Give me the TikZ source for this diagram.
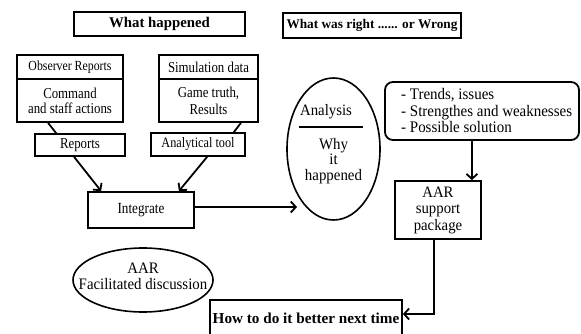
\documentclass[tikz,border=0pt]{standalone}
\usepackage{fontspec}
\setmainfont{Liberation Serif}[FakeStretch=0.85]
\newfontfamily\rfont{Liberation Serif}[FakeStretch=0.93]
\newfontfamily\hfont{Liberation Serif}
\usetikzlibrary{arrows.meta,shapes.geometric}
\newcommand\fsz[2]{\fontsize{#1}{#2}\selectfont}
\begin{document}
\begin{tikzpicture}[x=1pt,y=-1pt,
  box/.style={draw,line width=1.8pt,inner sep=0pt,align=center},
  oval/.style={draw,ellipse,line width=1.6pt,inner sep=0pt},
  txt/.style={inner sep=0pt,align=center},
  conn/.style={line width=1.8pt},
  arr/.style={line width=1.8pt,-{Straight Barb[length=5pt,width=11pt]}},
]
\clip (0,0) rectangle (581,334);
% headers
\node[box,minimum width=171pt,minimum height=24pt,font=\hfont\bfseries\fsz{14.8}{15}] (hap) at (159.5,24) {What happened};
\node[box,minimum width=178pt,minimum height=25pt,font=\hfont\bfseries\fsz{13.3}{14}] (right) at (372,25.5) {What was right ...... or Wrong};
% observer
\node[box,minimum width=106pt,minimum height=24pt,font=\fsz{13.9}{14}] (obsT) at (70,67) {Observer Reports};
\node[box,minimum width=106pt,minimum height=43pt,font=\fsz{15.1}{15}] (obsB) at (70,100.5) {Command\\and staff actions};
% simulation
\node[box,minimum width=99pt,minimum height=24pt,font=\fsz{15.1}{15}] (simT) at (208.5,67) {Simulation data};
\node[box,minimum width=99pt,minimum height=43pt,font=\fsz{15.1}{17}] (simB) at (208.5,100.5) {Game truth,\\Results};
% reports / tool
\node[box,minimum width=90pt,minimum height=22pt,font=\fsz{15.1}{15}] (reports) at (80,145) {Reports};
\node[box,minimum width=94pt,minimum height=23pt,font=\fsz{14.4}{15}] (tool) at (198,144.5) {Analytical tool};
% integrate
\node[box,minimum width=106pt,minimum height=36pt,font=\fsz{15.5}{16}] (integ) at (141,210) {Integrate};
% analysis ellipse
\node[oval,minimum width=93pt,minimum height=142pt] (ana) at (333.5,149) {};
\node[txt,font=\rfont\fsz{15.9}{17}] (anaT) at (326,112) {Analysis};
\draw[line width=1.8pt] (299,127) -- (363,127);
\node[txt,font=\rfont\fsz{16}{15.7}] (anaB) at (333.5,161) {Why\\it\\happened};
\coordinate (aIn) at (297,207);
% bullets
\node[box,rounded corners=8pt,minimum width=194pt,minimum height=58pt] (bul) at (482,111) {};
\node[txt,anchor=west,align=left,font=\rfont\fsz{16.1}{16.5}] (bulT) at (401,110.5) {- Trends, issues\\- Strengthes and weaknesses\\- Possible solution};
% AAR support package
\node[box,minimum width=86pt,minimum height=58pt,font=\rfont\fsz{15.9}{16.5}] (aarp) at (438,210) {AAR\\support\\package};
% how
\node[box,minimum width=192pt,minimum height=36pt,font=\hfont\bfseries\fsz{15.2}{16}] (how) at (306,318) {How to do it better next time};
% discussion
\node[oval,minimum width=140pt,minimum height=64pt] (disc) at (143,280) {};
\node[txt,font=\rfont\fsz{16}{16}] (discT) at (143,276) {AAR\\Facilitated discussion};
% connectors
\draw[conn] ([xshift=32pt]obsB.south west) -- ([xshift=22pt]reports.north west);
\draw[conn] ([xshift=-18pt]simB.south east) -- ([xshift=-12pt]tool.north east);
\draw[arr] ([xshift=40pt]reports.south west) -- ([xshift=14pt]integ.north west);
\draw[arr] ([xshift=57pt]tool.south west) -- ([xshift=-16pt]integ.north east);
\draw[arr] ([yshift=3pt]integ.east) -- (aIn);
\coordinate (pk) at ([xshift=-10pt]aarp.north east);
\draw[arr] (bul.south -| pk) -- (pk);
\draw[arr] ([xshift=-4pt]aarp.south) |- ([yshift=4pt]how.east);
\end{tikzpicture}
\end{document}
